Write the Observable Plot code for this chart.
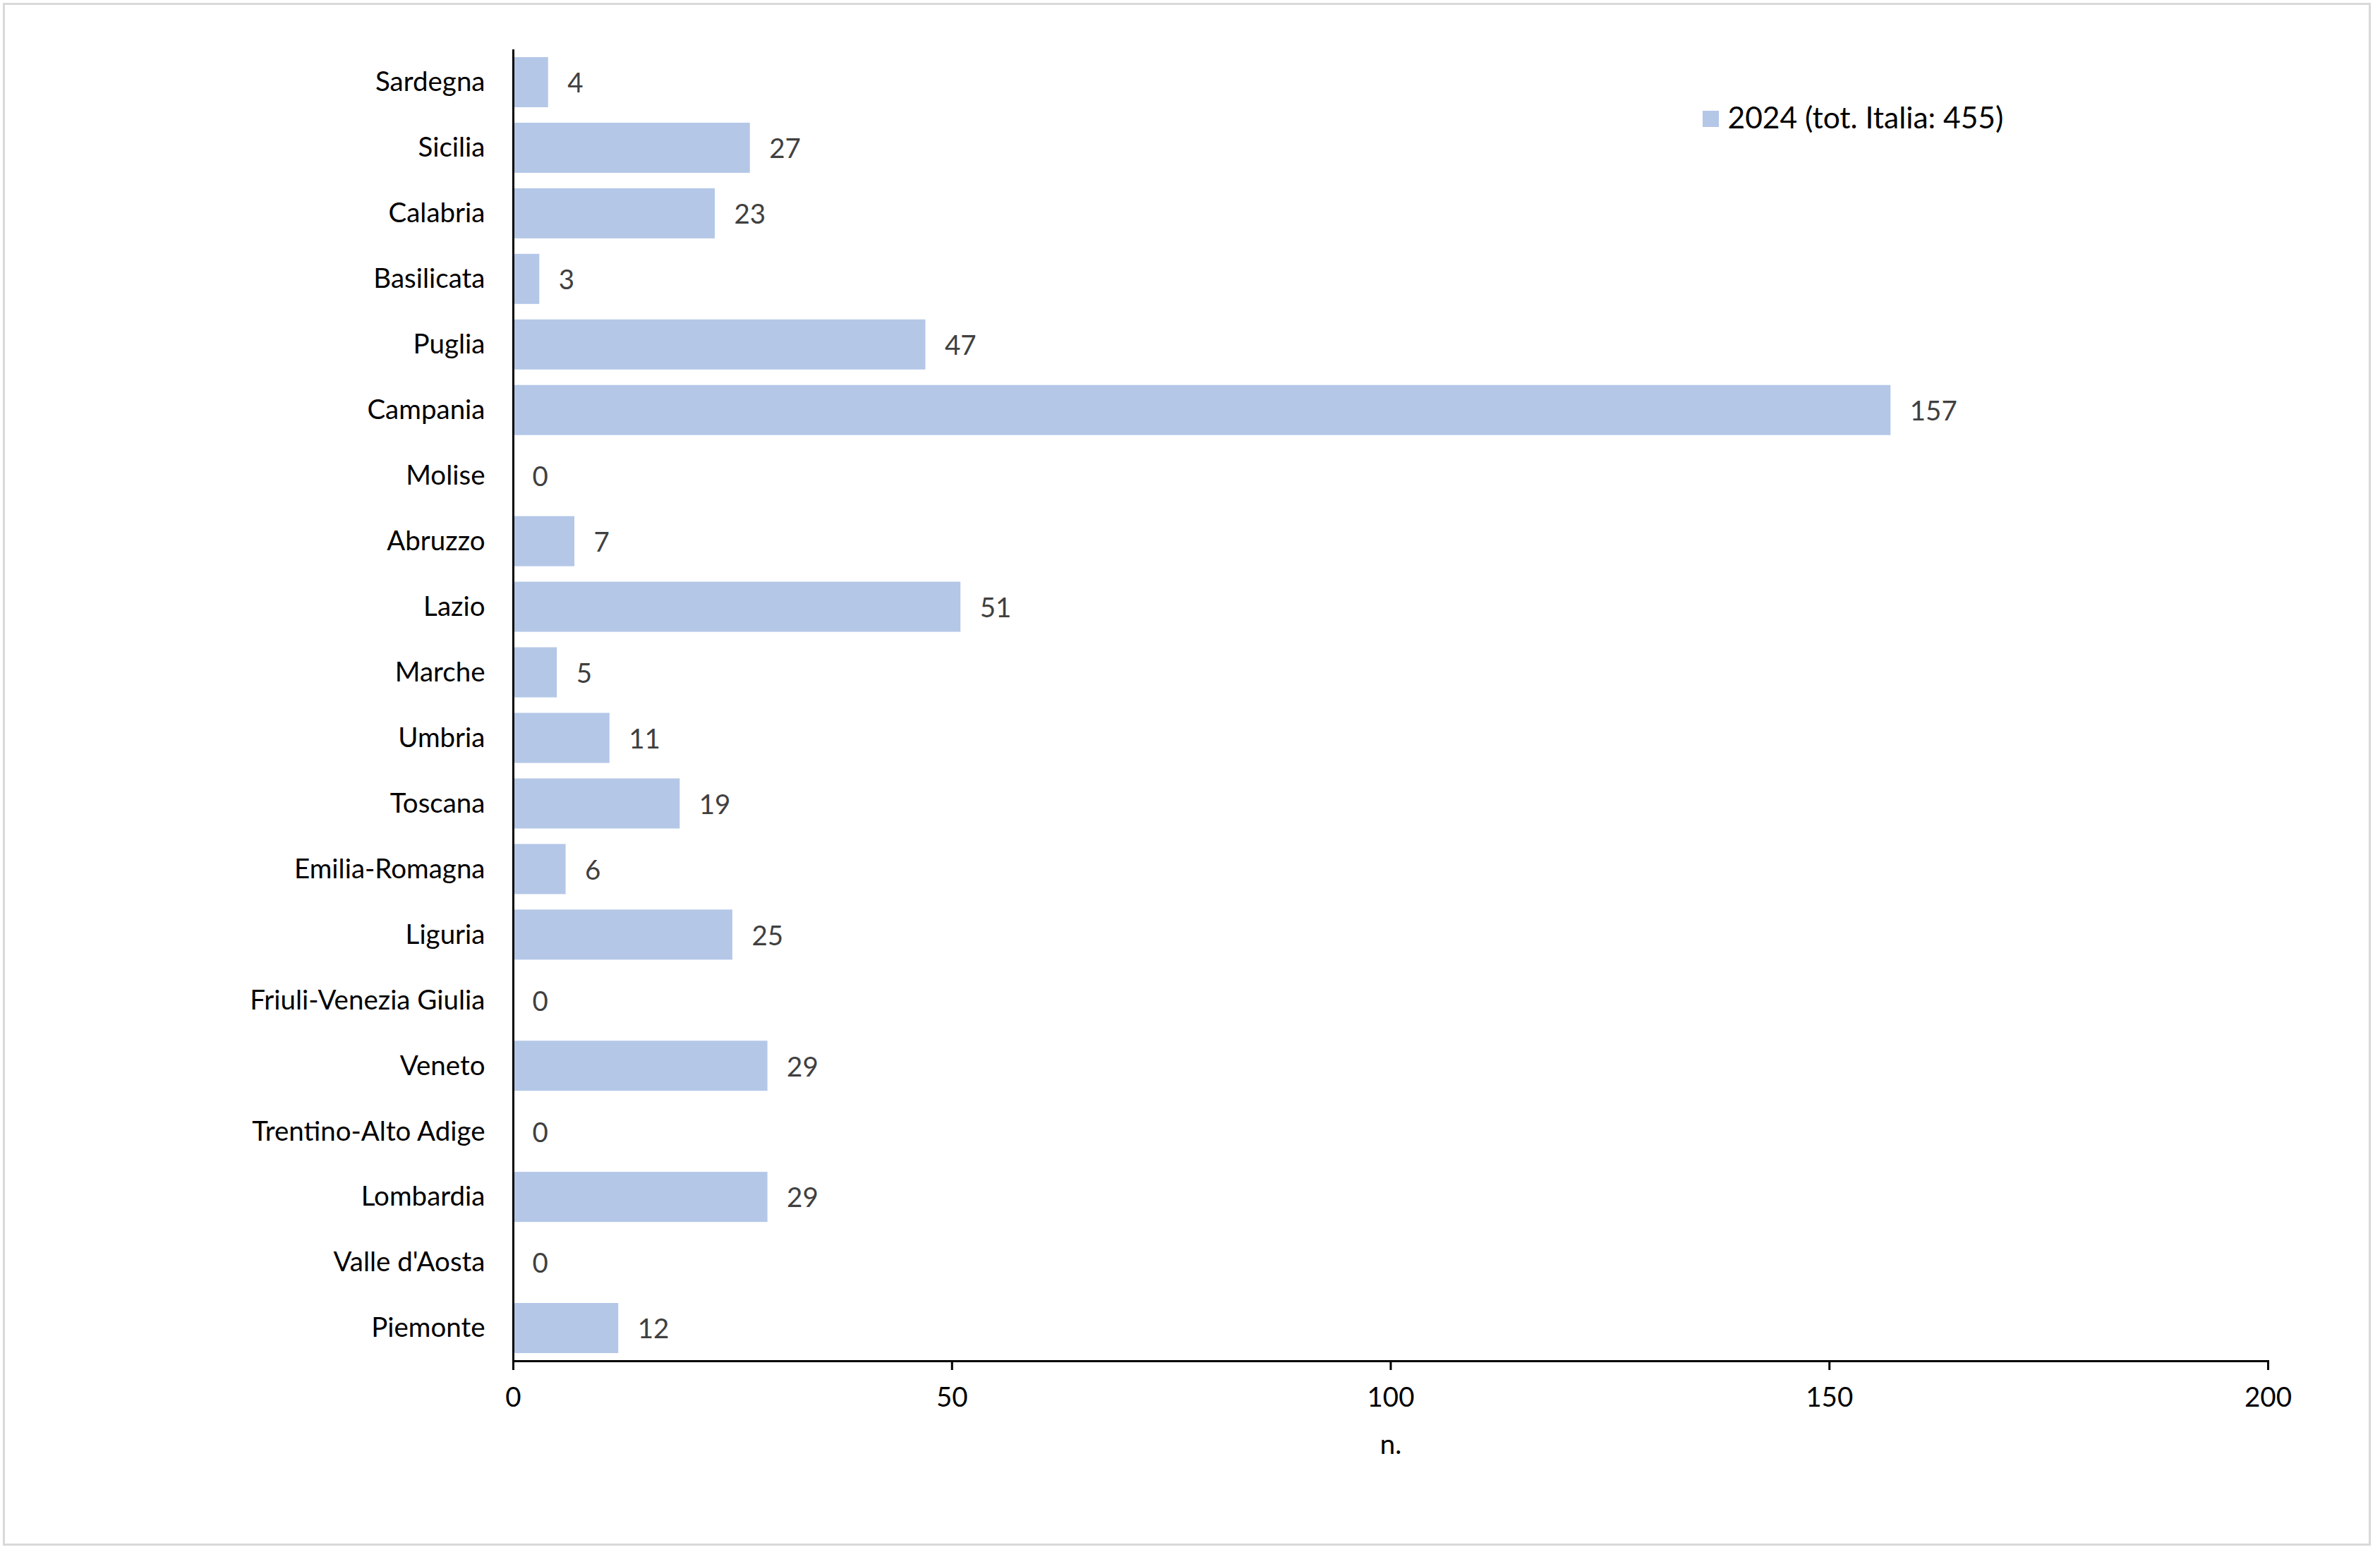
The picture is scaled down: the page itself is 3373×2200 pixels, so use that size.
<!DOCTYPE html>
<html>
<head>
<meta charset="utf-8">
<script src="https://cdn.jsdelivr.net/npm/d3@7"></script>
<script src="https://cdn.jsdelivr.net/npm/@observablehq/plot@0.6"></script>
<style>
  html, body { margin: 0; padding: 0; background: #fff; }
  #wrap { position: relative; width: 3373px; height: 2200px; }
  #border { position: absolute; left: 4px; top: 4px; width: 3356px; height: 2187px; border: 3px solid #d9d9d9; box-sizing: border-box; pointer-events: none; }
  svg { display: block; }
</style>
</head>
<body>
<div id="wrap"><div id="border"></div></div>
<script>
const regions = ["Sardegna", "Sicilia", "Calabria", "Basilicata", "Puglia", "Campania", "Molise", "Abruzzo", "Lazio", "Marche", "Umbria", "Toscana", "Emilia-Romagna", "Liguria", "Friuli-Venezia Giulia", "Veneto", "Trentino-Alto Adige", "Lombardia", "Valle d'Aosta", "Piemonte"];
const values2024 = [4, 27, 23, 3, 47, 157, 0, 7, 51, 5, 11, 19, 6, 25, 0, 29, 0, 29, 0, 12];
const xTicks = [0, 50, 100, 150, 200];
const seriesLabel = "2024 (tot. Italia: 455)";
const xLabel = "n.";
const barColor = "#b4c7e7";

const data = regions.map((r, i) => ({region: r, value: values2024[i]}));

const chart = Plot.plot({
  width: 3373,
  height: 2200,
  marginLeft: 727,
  marginRight: 159,
  marginTop: 70,
  marginBottom: 271,
  style: {fontFamily: "Lato, 'Open Sans', sans-serif", fontSize: "38.5px", color: "#000", background: "transparent"},
  x: {domain: [0, 200], ticks: xTicks, label: null},
  y: {domain: regions, paddingInner: 0.236, paddingOuter: 0.118, round: false, label: null},
  marks: [
    Plot.barX(data, {y: "region", x: "value", fill: barColor}),
    Plot.text(data, {y: "region", x: "value", text: d => String(d.value), textAnchor: "start", dx: 27, dy: 2, fill: "#404040"}),
    Plot.axisY({tickSize: 0, tickPadding: 40, label: null}),
    Plot.axisX({ticks: xTicks, tickSize: 13, tickPadding: 24, strokeWidth: 3, label: null}),
    Plot.frame({anchor: "bottom", strokeWidth: 3, stroke: "#000"}),
    Plot.ruleX([0], {strokeWidth: 3, stroke: "#000"}),
    Plot.text([xLabel], {frameAnchor: "bottom", dy: 119, text: d => d, lineAnchor: "middle"}),
    Plot.dot([seriesLabel], {frameAnchor: "top-left", dx: 1697, dy: 98, symbol: "square", r: 13, fill: barColor, stroke: null}),
    Plot.text([seriesLabel], {frameAnchor: "top-left", dx: 1721, dy: 98, text: d => d, textAnchor: "start", lineAnchor: "middle", fontSize: 42.5})
  ]
});
document.getElementById("wrap").prepend(chart);
</script>
</body>
</html>
